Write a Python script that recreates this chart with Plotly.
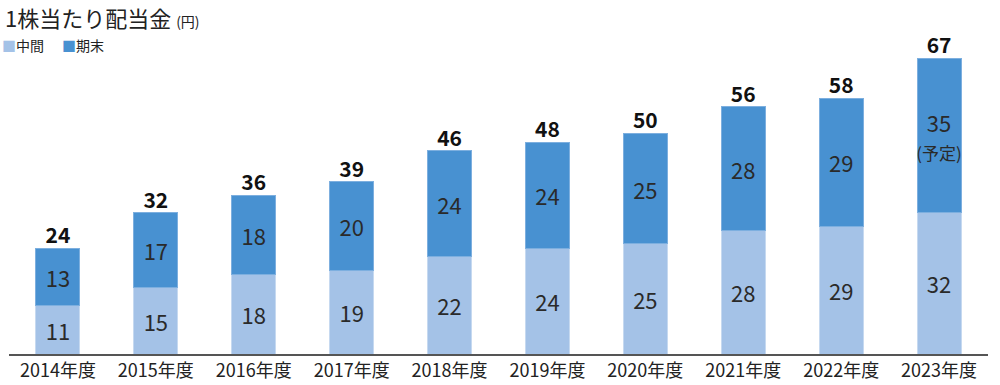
import plotly.graph_objects as go

years = ["2014年度", "2015年度", "2016年度", "2017年度", "2018年度",
         "2019年度", "2020年度", "2021年度", "2022年度", "2023年度"]
interim = [11, 15, 18, 19, 22, 24, 25, 28, 29, 32]
final = [13, 17, 18, 20, 24, 24, 25, 28, 29, 35]
totals = [24, 32, 36, 39, 46, 48, 50, 56, 58, 67]
final_labels = ["13", "17", "18", "20", "24", "24", "25", "28", "29",
                "35<br><span style='font-size:17px'>(予定)</span>"]

FONT = "Noto Sans CJK JP"
light = "#A4C2E7"
dark = "#4891D1"

fig = go.Figure()
fig.add_trace(go.Bar(
    x=years, y=interim, name="中間",
    marker=dict(color=light, line=dict(color="#C6D9F0", width=1)),
    text=[str(v) for v in interim], textposition="inside", insidetextanchor="middle",
    textangle=0, constraintext="none",
    textfont=dict(family=FONT, size=22, color="#2a2a2a"),
))
fig.add_trace(go.Bar(
    x=years, y=final, name="期末",
    marker=dict(color=dark, line=dict(color="#7DAFDF", width=1)),
    text=final_labels, textposition="inside", insidetextanchor="middle",
    textangle=0, constraintext="none",
    textfont=dict(family=FONT, size=22, color="#2a2a2a"),
))
fig.add_trace(go.Scatter(
    x=years, y=totals, mode="text", text=[f"<b>{v}</b>" for v in totals],
    textposition="top center", showlegend=False, hoverinfo="skip",
    textfont=dict(family=FONT, size=21, color="#111111"),
    cliponaxis=False,
))

fig.update_layout(
    width=1000, height=385,
    barmode="stack", bargap=0.55,
    margin=dict(l=9, r=12, t=23, b=31, autoexpand=False),
    plot_bgcolor="white", paper_bgcolor="white",
    font=dict(family=FONT, color="#222"),
    showlegend=False,
    xaxis=dict(showline=True, linecolor="#555", linewidth=1.5, ticks="",
               automargin=False,
               tickfont=dict(family=FONT, size=18, color="#222")),
    yaxis=dict(range=[0, 75], visible=False, automargin=False),
    annotations=[
        dict(xref="paper", yref="paper", x=0, y=1.018, xshift=-6, xanchor="left", yanchor="middle",
             text="1株当たり配当金 <span style='font-size:14px'>(円)</span>",
             showarrow=False, font=dict(family=FONT, size=22, color="#222")),
        dict(xref="paper", yref="paper", x=0, y=0.934, xshift=-9, xanchor="left", yanchor="middle",
             text=f"<span style='color:{light}'>■</span>中間", showarrow=False,
             font=dict(family=FONT, size=14, color="#222")),
        dict(xref="paper", yref="paper", x=0, y=0.934, xshift=51, xanchor="left", yanchor="middle",
             text=f"<span style='color:{dark}'>■</span>期末", showarrow=False,
             font=dict(family=FONT, size=14, color="#222")),
    ],
)
fig.write_html("out.html", config={"displayModeBar": False},
               post_script="document.body.style.margin='0px';")
